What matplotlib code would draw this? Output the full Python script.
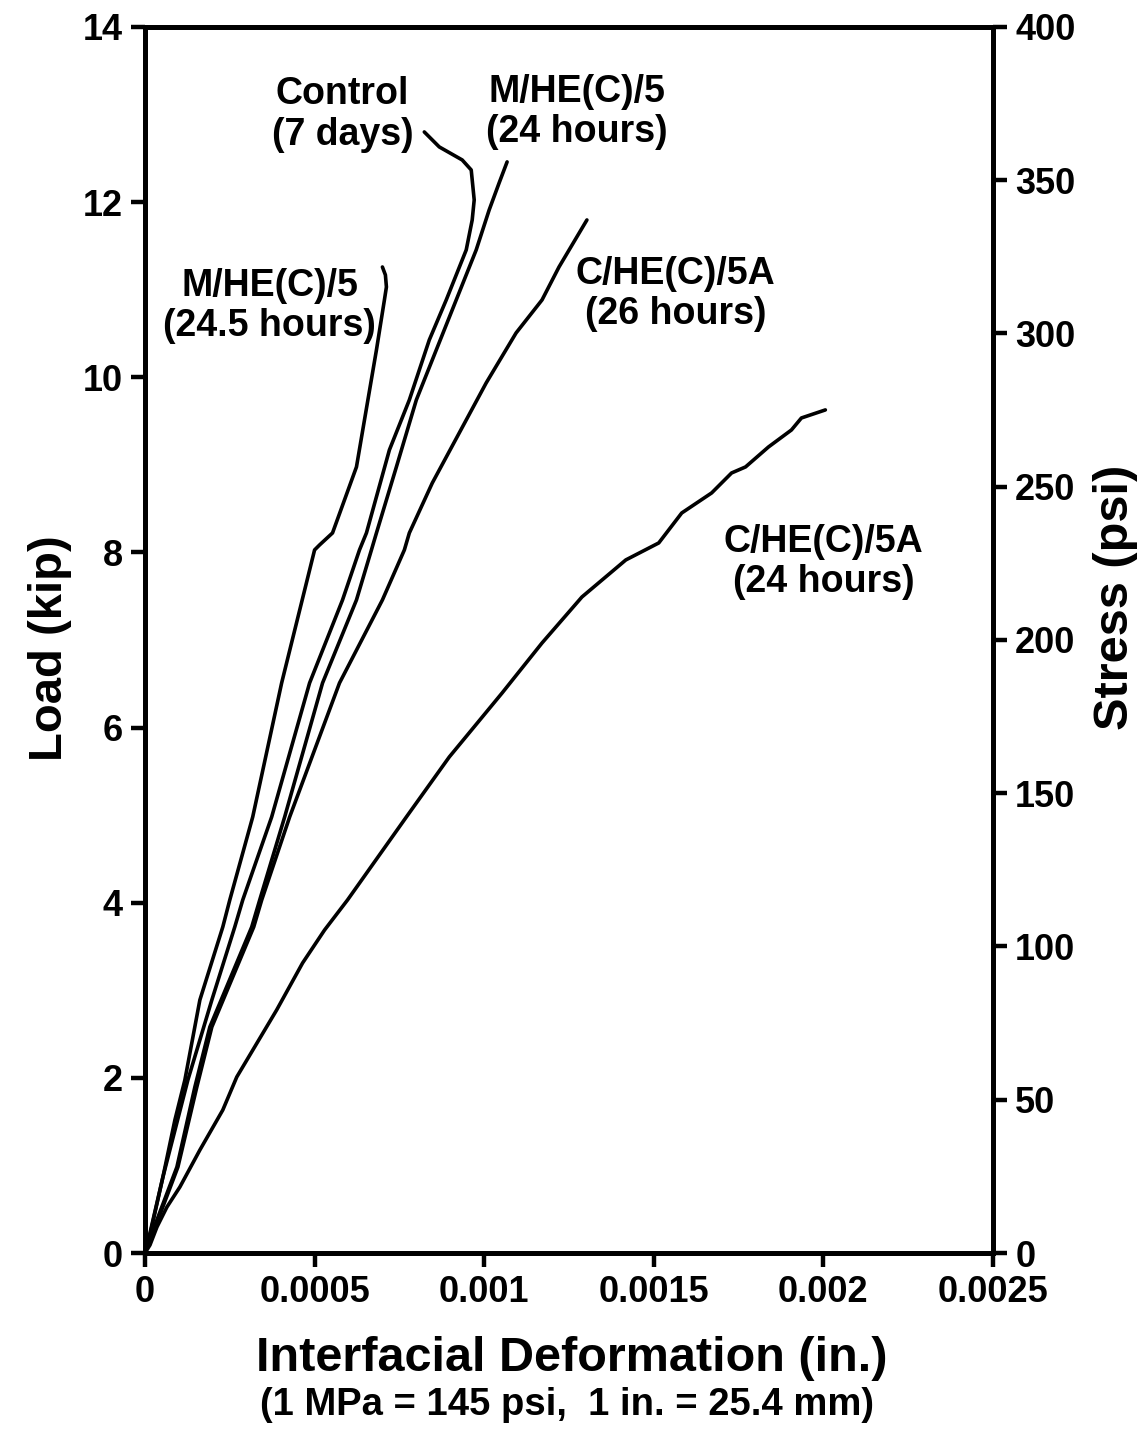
import numpy as np
import matplotlib
matplotlib.use("Agg")
import matplotlib.pyplot as plt

plt.rcParams["font.family"] = ["Liberation Sans", "DejaVu Sans"]
plt.rcParams["font.weight"] = "bold"

# deformation (in.) and load (kip) for each test
m5_245_x = [0, 0.0000147, 0.0000529, 0.0000882, 0.0001176, 0.0001618, 0.0002294, 0.0002500,
            0.0003176, 0.0004029, 0.0005000, 0.0005147, 0.0005529, 0.0005882, 0.0006235,
            0.0006471, 0.0006824, 0.0007059, 0.0007118, 0.0007088, 0.0007000]
m5_245_y = [0, 0.206, 0.868, 1.519, 1.976, 2.889, 3.723, 4.031, 4.979, 6.509, 8.028, 8.085,
            8.222, 8.599, 8.976, 9.512, 10.312, 10.883, 11.031, 11.168, 11.259]

control_x = [0, 0.0000147, 0.0000529, 0.0001265, 0.0001971, 0.0002647, 0.0002882, 0.0003735,
             0.0004853, 0.0005824, 0.0006324, 0.0006529, 0.0007206, 0.0007794, 0.0008382,
             0.0008882, 0.0009471, 0.0009647, 0.0009706, 0.0009618, 0.0009353, 0.0008676,
             0.0008235]
control_y = [0, 0.228, 0.868, 1.976, 2.889, 3.723, 4.031, 4.979, 6.509, 7.457, 8.028, 8.222,
             9.170, 9.741, 10.426, 10.883, 11.454, 11.796, 12.025, 12.367, 12.481, 12.630,
             12.801]

m5_24_x = [0, 0.0000206, 0.0000941, 0.0001471, 0.0001912, 0.0003147, 0.0003382, 0.0004118,
           0.0005235, 0.0006235, 0.0006676, 0.0006824, 0.0007412, 0.0008000, 0.0008588,
           0.0009176, 0.0009765, 0.0010147, 0.0010441, 0.0010676]
m5_24_y = [0, 0.228, 0.982, 1.896, 2.581, 3.723, 4.031, 4.979, 6.509, 7.457, 8.028, 8.222,
           8.976, 9.741, 10.312, 10.883, 11.454, 11.910, 12.219, 12.459]

c5a_26_x = [0, 0.0000235, 0.0000971, 0.0001529, 0.0001971, 0.0003206, 0.0003441, 0.0004265,
            0.0005735, 0.0007000, 0.0007647, 0.0007794, 0.0008471, 0.0009265, 0.0010059,
            0.0010941, 0.0011706, 0.0012206, 0.0013029]
c5a_26_y = [0, 0.228, 0.982, 1.896, 2.581, 3.723, 4.031, 4.979, 6.509, 7.457, 8.028, 8.222,
            8.793, 9.364, 9.935, 10.506, 10.883, 11.259, 11.796]

c5a_24_x = [0, 0.0000147, 0.0000353, 0.0000647, 0.0001029, 0.0001618, 0.0002294, 0.0002706,
            0.0003882, 0.0004647, 0.0005294, 0.0005971, 0.0007706, 0.0008971, 0.0010529,
            0.0011706, 0.0012882, 0.0014176, 0.0015147, 0.0015824, 0.0016706, 0.0017294,
            0.0017706, 0.0018382, 0.0019059, 0.0019353, 0.0020059]
c5a_24_y = [0, 0.091, 0.297, 0.525, 0.754, 1.176, 1.633, 2.010, 2.775, 3.312, 3.688, 4.031,
            4.979, 5.664, 6.395, 6.966, 7.491, 7.914, 8.108, 8.450, 8.679, 8.907, 8.976,
            9.204, 9.398, 9.535, 9.627]

labels = [("Control\n(7 days)", 0.000582, 13.0),
          ("M/HE(C)/5\n(24 hours)", 0.001274, 13.03),
          ("M/HE(C)/5\n(24.5 hours)", 0.000368, 10.81),
          ("C/HE(C)/5A\n(26 hours)", 0.001565, 10.95),
          ("C/HE(C)/5A\n(24 hours)", 0.002000, 7.89)]

fig = plt.figure(figsize=(11.47, 14.33), dpi=100)
ax = fig.add_axes([0.1264, 0.1256, 0.8657 - 0.1264, 0.9812 - 0.1256])

for xs, ys in [(m5_245_x, m5_245_y), (control_x, control_y), (m5_24_x, m5_24_y),
               (c5a_26_x, c5a_26_y), (c5a_24_x, c5a_24_y)]:
    ax.plot(xs, ys, color="black", linewidth=2.6, solid_capstyle="round",
            solid_joinstyle="round")

ax.set_xlim(0, 0.0025)
ax.set_ylim(0, 14)
ax.set_xticks([0, 0.0005, 0.001, 0.0015, 0.002, 0.0025])
ax.set_xticklabels(["0", "0.0005", "0.001", "0.0015", "0.002", "0.0025"])
ax.set_yticks(range(0, 15, 2))

ax2 = ax.twinx()
ax2.set_ylim(0, 400)
ax2.set_yticks(range(0, 401, 50))

for a in (ax, ax2):
    for s in a.spines.values():
        s.set_linewidth(3.5)
    a.tick_params(direction="out", length=10, width=3.2, labelsize=26, pad=6)

for txt, x, y in labels:
    ax.text(x, y, txt, ha="center", va="center", fontsize=27, fontweight="bold",
            linespacing=1.15)

fig.text(0.0436, 0.5478, "Load (kip)", rotation=90, ha="center", va="center",
         fontsize=34, fontweight="bold")
fig.text(0.9725, 0.5834, "Stress (psi)", rotation=90, ha="center", va="center",
         fontsize=35, fontweight="bold")
fig.text(0.4987, 0.0523, "Interfacial Deformation (in.)", ha="center", va="center",
         fontsize=35, fontweight="bold")
fig.text(0.494, 0.0195, "(1 MPa = 145 psi,  1 in. = 25.4 mm)", ha="center",
         va="center", fontsize=27.5, fontweight="bold")

fig.savefig("out.png", dpi=100)
